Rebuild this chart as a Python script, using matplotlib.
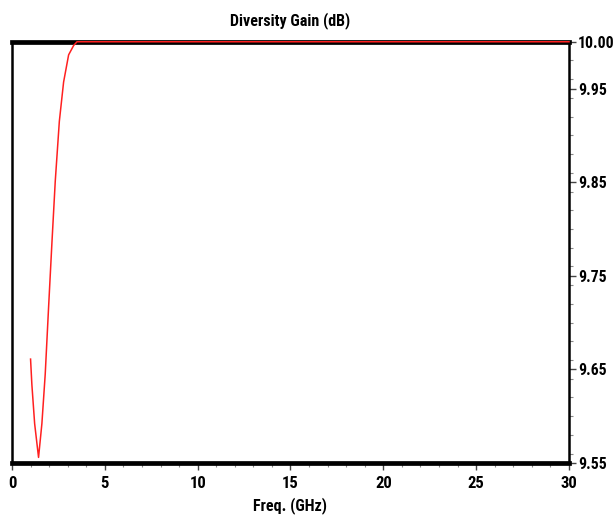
import matplotlib
matplotlib.use("Agg")
import matplotlib.pyplot as plt
from matplotlib.ticker import MultipleLocator, FixedLocator

# values
freq = [1.0, 1.07, 1.22, 1.43, 1.61, 1.79, 1.97, 2.15, 2.33, 2.55, 2.78, 3.05, 3.32, 3.5, 30.0]
gain = [9.661, 9.634, 9.592, 9.556, 9.592, 9.645, 9.716, 9.785, 9.851, 9.915, 9.957, 9.986, 9.996, 10.0, 10.0]

y_major = [9.55, 9.65, 9.75, 9.85, 9.95, 10.00]
y_labels = ["9.55", "9.65", "9.75", "9.85", "9.95", "10.00"]
x_major = [0, 5, 10, 15, 20, 25, 30]

plt.rcParams['font.family'] = ['Roboto Condensed', 'Lato', 'DejaVu Sans']
plt.rcParams['font.weight'] = 'bold'

fig = plt.figure(figsize=(6.15, 5.22), dpi=100)
ax = fig.add_axes([0.0195, 0.113, 0.9057, 0.807])

ax.plot(freq, gain, color='#ff2020', lw=1.1, zorder=3, clip_on=False)

ax.set_xlim(0, 30)
ax.set_ylim(9.55, 10.0)

# y axis sits on the right
ax.yaxis.tick_right()
ax.yaxis.set_major_locator(FixedLocator(y_major))
ax.set_yticklabels(y_labels)
ax.yaxis.set_minor_locator(MultipleLocator(0.02))
ax.xaxis.set_major_locator(FixedLocator(x_major))
ax.xaxis.set_minor_locator(MultipleLocator(1))

for side in ['top', 'bottom']:
    ax.spines[side].set_linewidth(3.4)
for side in ['left', 'right']:
    ax.spines[side].set_linewidth(1.8)

ax.tick_params(axis='both', which='major', length=5, width=1, color='#444444')
ax.tick_params(axis='both', which='minor', length=3, width=0.8, color='#888888')
ax.tick_params(axis='x', labelsize=12, pad=4)
ax.tick_params(axis='y', labelsize=11.3, pad=1.5)
for lab in ax.get_xticklabels() + ax.get_yticklabels():
    lab.set_fontweight('bold')

ax.set_xlabel("Freq. (GHz)", fontsize=11.5, fontweight='bold', labelpad=5)
ax.set_title("Diversity Gain (dB)", fontsize=11.5, fontweight='bold', pad=12)

fig.savefig("out.png", dpi=100)
